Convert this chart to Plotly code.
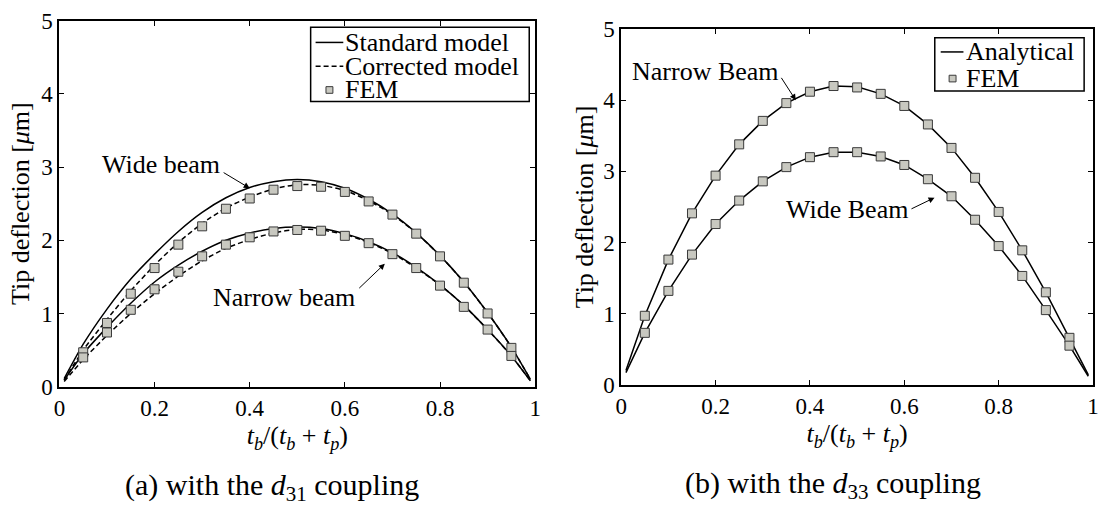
import plotly.graph_objects as go
from plotly.subplots import make_subplots

# ---------------- data ----------------
x_curve = [0.01, 0.05, 0.10, 0.15, 0.20, 0.25, 0.30, 0.35, 0.40, 0.45, 0.50,
           0.55, 0.60, 0.65, 0.70, 0.75, 0.80, 0.85, 0.90, 0.95, 0.99]
x_fem = [0.05, 0.10, 0.15, 0.20, 0.25, 0.30, 0.35, 0.40, 0.45, 0.50,
         0.55, 0.60, 0.65, 0.70, 0.75, 0.80, 0.85, 0.90, 0.95]

# (a) d31 coupling
std_wide = [0.11, 0.58, 1.06, 1.47, 1.81, 2.12, 2.38, 2.58, 2.72, 2.80, 2.83,
            2.80, 2.71, 2.56, 2.36, 2.10, 1.79, 1.43, 1.01, 0.54, 0.10]
cor_wide = [0.09, 0.50, 0.92, 1.31, 1.66, 1.97, 2.23, 2.44, 2.59, 2.70, 2.76,
            2.75, 2.68, 2.54, 2.35, 2.10, 1.79, 1.43, 1.01, 0.54, 0.10]
std_narrow = [0.09, 0.45, 0.81, 1.14, 1.43, 1.66, 1.85, 2.00, 2.10, 2.16, 2.18,
              2.16, 2.09, 1.98, 1.83, 1.63, 1.39, 1.11, 0.78, 0.42, 0.08]
cor_narrow = [0.07, 0.37, 0.70, 1.00, 1.27, 1.51, 1.72, 1.89, 2.01, 2.10, 2.15,
              2.14, 2.08, 1.97, 1.82, 1.62, 1.39, 1.11, 0.78, 0.42, 0.08]
fem_wide_a = [0.47, 0.87, 1.27, 1.62, 1.94, 2.19, 2.43, 2.57, 2.69, 2.74,
              2.73, 2.66, 2.53, 2.35, 2.09, 1.78, 1.42, 1.00, 0.53]
fem_narrow_a = [0.40, 0.74, 1.05, 1.33, 1.57, 1.78, 1.94, 2.04, 2.12, 2.14,
                2.13, 2.06, 1.96, 1.81, 1.62, 1.38, 1.09, 0.78, 0.42]

# (b) d33 coupling
ana_narrow = [0.20, 0.97, 1.76, 2.41, 2.94, 3.38, 3.71, 3.96, 4.12, 4.20, 4.19,
              4.09, 3.92, 3.66, 3.33, 2.91, 2.43, 1.89, 1.30, 0.66, 0.14]
ana_wide = [0.17, 0.73, 1.32, 1.83, 2.26, 2.59, 2.86, 3.06, 3.20, 3.27, 3.27,
            3.21, 3.09, 2.89, 2.65, 2.32, 1.95, 1.53, 1.05, 0.55, 0.12]
fem_narrow_b = [0.97, 1.76, 2.41, 2.94, 3.38, 3.71, 3.96, 4.12, 4.20, 4.18,
                4.09, 3.92, 3.66, 3.33, 2.91, 2.43, 1.89, 1.30, 0.66]
fem_wide_b = [0.73, 1.32, 1.83, 2.26, 2.59, 2.86, 3.06, 3.20, 3.27, 3.27,
              3.21, 3.09, 2.89, 2.65, 2.32, 1.95, 1.53, 1.05, 0.55]

x_ticks = [0, 0.2, 0.4, 0.6, 0.8, 1]
y_ticks = [0, 1, 2, 3, 4, 5]

# ---------------- styles ----------------
W, H = 1102, 510
FONT = "Liberation Serif, Times New Roman, serif"
MFILL = "#c8c8c0"
MLINE = "#3a3a3a"


def px(v):
    return v / W


def py(v):
    return 1 - v / H


fig = make_subplots(rows=1, cols=2)

solid = dict(color="black", width=1.5, shape="spline", smoothing=0.6)
dashed = dict(color="black", width=1.5, dash="5px,3px", shape="spline", smoothing=0.6)
mk = dict(symbol="square", size=9, color=MFILL, line=dict(color=MLINE, width=1))

fig.add_trace(go.Scatter(x=x_curve, y=std_wide, mode="lines", line=solid,
                         name="Standard model"), 1, 1)
fig.add_trace(go.Scatter(x=x_curve, y=std_narrow, mode="lines", line=solid,
                         showlegend=False), 1, 1)
fig.add_trace(go.Scatter(x=x_curve, y=cor_wide, mode="lines", line=dashed,
                         name="Corrected model"), 1, 1)
fig.add_trace(go.Scatter(x=x_curve, y=cor_narrow, mode="lines", line=dashed,
                         showlegend=False), 1, 1)
fig.add_trace(go.Scatter(x=x_fem, y=fem_wide_a, mode="markers", marker=mk,
                         name="FEM"), 1, 1)
fig.add_trace(go.Scatter(x=x_fem, y=fem_narrow_a, mode="markers", marker=mk,
                         showlegend=False), 1, 1)

lin = dict(color="black", width=1.5)
fig.add_trace(go.Scatter(x=x_curve, y=ana_narrow, mode="lines", line=lin,
                         name="Analytical"), 1, 2)
fig.add_trace(go.Scatter(x=x_curve, y=ana_wide, mode="lines", line=lin,
                         showlegend=False), 1, 2)
fig.add_trace(go.Scatter(x=x_fem, y=fem_narrow_b, mode="markers", marker=mk,
                         name="FEM"), 1, 2)
fig.add_trace(go.Scatter(x=x_fem, y=fem_wide_b, mode="markers", marker=mk,
                         showlegend=False), 1, 2)

xtitle = "<i>t</i><sub><i>b</i></sub>/(<i>t</i><sub><i>b</i></sub> + <i>t</i><sub><i>p</i></sub>)"
ytitle = "Tip deflection [<i>μ</i>m]"

axis_common = dict(showline=True, linewidth=2, linecolor="black", mirror="ticks",
                   ticks="inside", ticklen=5, tickwidth=1, tickcolor="black",
                   showgrid=False, zeroline=False,
                   tickfont=dict(family=FONT, size=23, color="black"))

fig.update_xaxes(range=[0, 1], tickvals=x_ticks, **axis_common)
fig.update_yaxes(range=[0, 5], tickvals=y_ticks, **axis_common)

fig.update_layout(
    xaxis=dict(domain=[px(54), px(535)],
               title=dict(text=xtitle, standoff=4, font=dict(family=FONT, size=26))),
    xaxis2=dict(domain=[px(622), px(1099)],
                title=dict(text=xtitle, standoff=1, font=dict(family=FONT, size=26))),
    yaxis=dict(domain=[py(394), py(9)],
               title=dict(text=ytitle, standoff=4, font=dict(family=FONT, size=26))),
    yaxis2=dict(domain=[py(392), py(18)],
                title=dict(text=ytitle, standoff=2, font=dict(family=FONT, size=26))),
)

annotations = []
# captions
annotations.append(dict(text="(a) with the <i>d</i><sub>31</sub> coupling", xref="paper", yref="paper",
                        x=px(269), y=py(500), xanchor="center", yanchor="middle", showarrow=False,
                        font=dict(family=FONT, size=30, color="black")))
annotations.append(dict(text="(b) with the <i>d</i><sub>33</sub> coupling", xref="paper", yref="paper",
                        x=px(836), y=py(497), xanchor="center", yanchor="middle", showarrow=False,
                        font=dict(family=FONT, size=30, color="black")))

# labels with arrows
lab_font = dict(family=FONT, size=26, color="black")


def label(text, xref, yref, tx, ty, ax_, ay_, hx, hy):
    annotations.append(dict(text=text, xref=xref, yref=yref, x=tx, y=ty, showarrow=False,
                            xanchor="center", yanchor="middle", font=lab_font))
    annotations.append(dict(text=" ", xref=xref, yref=yref, x=hx, y=hy, axref=xref, ayref=yref,
                            ax=ax_, ay=ay_, showarrow=True, arrowhead=2, arrowsize=1.2,
                            arrowwidth=1, arrowcolor="black", font=dict(size=2)))


label("Wide beam", "x", "y", 0.213, 3.04, 0.341, 2.94, 0.400, 2.71)
label("Narrow beam", "x", "y", 0.472, 1.22, 0.626, 1.32, 0.684, 1.68)
label("Narrow Beam", "x2", "y2", 0.179, 4.40, 0.336, 4.35, 0.370, 4.00)
label("Wide Beam", "x2", "y2", 0.479, 2.46, 0.611, 2.46, 0.664, 2.63)

# manual legends (boxes, samples, texts)
shapes = []
leg_font = dict(family=FONT, size=26, color="black")


def legend_box(x0, y0, x1, y1):
    shapes.append(dict(type="rect", xref="paper", yref="paper", x0=px(x0), x1=px(x1),
                       y0=py(y1), y1=py(y0), line=dict(color="black", width=1.5),
                       fillcolor="white", layer="above"))


def legend_line(x0, x1, yy, dash=None):
    ln = dict(color="black", width=1.5)
    if dash:
        ln["dash"] = dash
    shapes.append(dict(type="line", xref="paper", yref="paper", x0=px(x0), x1=px(x1),
                       y0=py(yy), y1=py(yy), line=ln, layer="above"))


def legend_marker(cx, cy, s=7):
    shapes.append(dict(type="rect", xref="paper", yref="paper", x0=px(cx - s / 2), x1=px(cx + s / 2),
                       y0=py(cy + s / 2), y1=py(cy - s / 2), line=dict(color=MLINE, width=1),
                       fillcolor=MFILL, layer="above"))


def legend_text(text, xx, yy):
    annotations.append(dict(text=text, xref="paper", yref="paper", x=px(xx), y=py(yy),
                            xanchor="left", yanchor="middle", showarrow=False, font=leg_font))


legend_box(308, 16, 529, 94)
legend_line(313, 341, 32)
legend_text("Standard model", 341, 32)
legend_line(313, 341, 57, dash="5px,3px")
legend_text("Corrected model", 341, 57)
legend_marker(327, 82)
legend_text("FEM", 341, 82)

legend_box(939, 27, 1090, 83)
legend_line(945, 968, 42)
legend_text("Analytical", 969, 42)
legend_marker(957, 70)
legend_text("FEM", 969, 70)

fig.update_layout(
    width=W, height=H,
    margin=dict(l=0, r=0, t=0, b=0),
    paper_bgcolor="white", plot_bgcolor="white",
    showlegend=False,
    font=dict(family=FONT, color="black"),
    annotations=annotations,
    shapes=shapes,
)

fig.write_html("out.html")
